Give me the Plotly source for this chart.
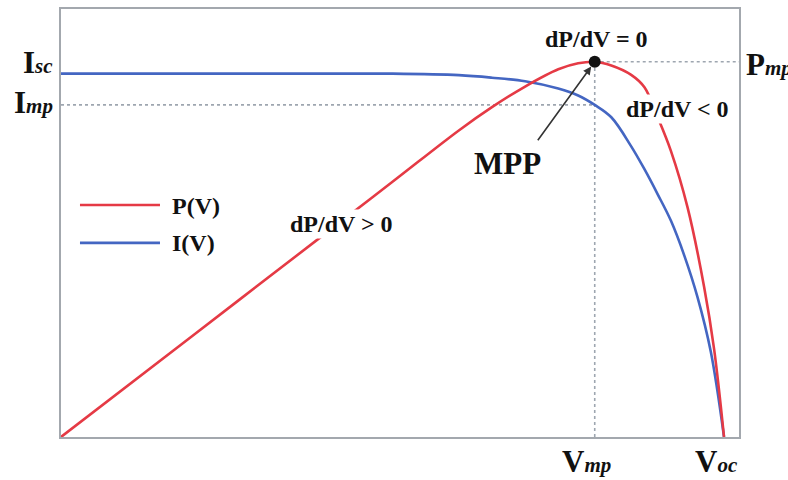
import plotly.graph_objects as go

# Normalised PV-cell characteristics (V / Voc, I / Isc, P / Pmp)
V_OC = 1.0
V_MP = 0.805
I_SC = 1.0
I_MP = 0.914
P_MP = 1.0

volt_p = [0, 0.2, 0.4, 0.5, 0.6, 0.65, 0.7, 0.75, 0.78, 0.805, 0.83, 0.86,
          0.88, 0.90, 0.92, 0.945, 0.97, 0.985, 1.0]
power = [0, 0.272, 0.544, 0.680, 0.817, 0.879, 0.934, 0.980, 0.996, 1.0,
         0.990, 0.965, 0.932, 0.852, 0.762, 0.612, 0.400, 0.235, 0]

volt_i = [0, 0.3, 0.5, 0.6, 0.65, 0.7, 0.75, 0.78, 0.805, 0.83, 0.86, 0.88,
          0.90, 0.92, 0.94, 0.96, 0.98, 1.0]
current = [1.0, 1.0, 1.0, 0.996, 0.989, 0.979, 0.959, 0.940, 0.914, 0.880,
           0.800, 0.737, 0.668, 0.595, 0.500, 0.385, 0.235, 0]

RED = "#e53a45"
BLUE = "#4466c2"
GRID = "#9ea6b0"
FRAME = "#a3a8ae"
SERIF = "Liberation Serif, Times New Roman, serif"

X_MAX = 1.0226
Y_MAX = 1.178
Y2_MAX = 1.1406

fig = go.Figure()

fig.add_trace(go.Scatter(x=volt_p, y=power, name="P(V)", yaxis="y2",
                         mode="lines", line=dict(color=RED, width=2.6, shape="spline", smoothing=1.0),
                         showlegend=False, hoverinfo="skip"))
fig.add_trace(go.Scatter(x=volt_i, y=current, name="I(V)", yaxis="y",
                         mode="lines", line=dict(color=BLUE, width=2.6, shape="spline", smoothing=1.0),
                         showlegend=False, hoverinfo="skip"))
fig.add_trace(go.Scatter(x=[V_MP], y=[P_MP], yaxis="y2", mode="markers",
                         marker=dict(color="#111111", size=12), showlegend=False,
                         hoverinfo="skip"))

dot = dict(color=GRID, width=1.6, dash="dot")
fig.add_shape(type="line", xref="x", yref="y", x0=0, x1=V_MP, y0=I_MP, y1=I_MP,
              line=dot, layer="below")
fig.add_shape(type="line", xref="x", yref="y2", x0=V_MP, x1=X_MAX, y0=P_MP, y1=P_MP,
              line=dot, layer="below")
fig.add_shape(type="line", xref="x", yref="y2", x0=V_MP, x1=V_MP, y0=0, y1=P_MP,
              line=dot, layer="below")

# Hand-built legend with long line samples
for ypos, col in [(0.5419, RED), (0.4535, BLUE)]:
    fig.add_shape(type="line", xref="paper", yref="paper", x0=0.028, x1=0.146,
                  y0=ypos, y1=ypos, line=dict(color=col, width=2.6))
for ypos, txt in [(0.5395, "P(V)"), (0.4535, "I(V)")]:
    fig.add_annotation(xref="paper", yref="paper", x=0.161, y=ypos, text=f"<b>{txt}</b>",
                       xanchor="left", yanchor="middle", showarrow=False,
                       font=dict(family=SERIF, size=24, color="#111111"))

big = dict(family=SERIF, size=31, color="#111111")
mid = dict(family=SERIF, size=24, color="#111111")


def sym(main, sub):
    return (f"<b>{main}</b><span style='font-size:21px'>"
            f"<b><i>{sub}</i></b></span>")


# Axis point labels
fig.add_annotation(xref="x", yref="y", x=0, y=I_SC, xanchor="right", yanchor="middle",
                   xshift=-6, yshift=11, showarrow=False, font=big, text=sym("I", "sc"))
fig.add_annotation(xref="x", yref="y", x=0, y=I_MP, xanchor="right", yanchor="middle",
                   xshift=-6, yshift=2, showarrow=False, font=big, text=sym("I", "mp"))
fig.add_annotation(xref="paper", yref="y2", x=1.0074, y=P_MP, xanchor="left", yanchor="middle",
                   yshift=-3, showarrow=False, font=big, text=sym("P", "mp"))
fig.add_annotation(xref="x", yref="paper", x=V_MP, y=0, xanchor="center", yanchor="top",
                   xshift=-8, yshift=-5, showarrow=False, font=big, text=sym("V", "mp"))
fig.add_annotation(xref="x", yref="paper", x=V_OC, y=0, xanchor="center", yanchor="top",
                   xshift=-8, yshift=-5, showarrow=False, font=big, text=sym("V", "oc"))

# Slope annotations
fig.add_annotation(xref="x", yref="y2", x=V_MP, y=P_MP, yshift=23, xshift=2,
                   showarrow=False, font=mid, text="<b>dP/dV = 0</b>")
fig.add_annotation(xref="x", yref="y2", x=0.930, y=0.874, showarrow=False, font=mid,
                   bgcolor="white", text="<b>dP/dV &lt; 0</b>")
fig.add_annotation(xref="x", yref="y2", x=0.4238, y=0.5676, showarrow=False, font=mid,
                   bgcolor="white", text="<b>dP/dV &gt; 0</b>")
fig.add_annotation(xref="x", yref="y2", x=0.6735, y=0.728, showarrow=False, font=big,
                   text="<b>MPP</b>")
fig.add_annotation(xref="x", yref="y2", x=V_MP, y=P_MP, text="", showarrow=True,
                   ax=-58, ay=80, arrowhead=2, arrowsize=1, arrowwidth=1.6,
                   arrowcolor="#333333", standoff=6)

axis_common = dict(showgrid=False, zeroline=False, showticklabels=False, ticks="")
fig.update_layout(
    width=788, height=480,
    margin=dict(l=61, r=49, t=7, b=43),
    paper_bgcolor="white", plot_bgcolor="white",
    xaxis=dict(range=[0, X_MAX], showline=True, linecolor=FRAME, linewidth=2, mirror=True,
               **axis_common),
    yaxis=dict(range=[0, Y_MAX], showline=True, linecolor=FRAME, linewidth=2, mirror=True,
               **axis_common),
    yaxis2=dict(range=[0, Y2_MAX], overlaying="y", visible=False, **axis_common),
    showlegend=False,
)

fig.write_html("out.html")
